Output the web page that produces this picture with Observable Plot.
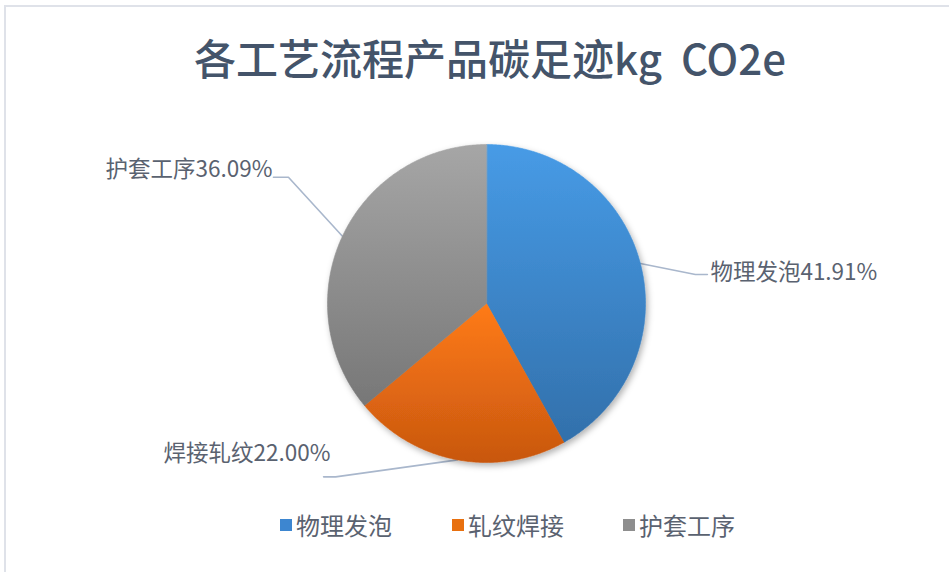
<!DOCTYPE html>
<html><head><meta charset="utf-8">
<script src="https://cdn.jsdelivr.net/npm/d3@7"></script>
<script src="https://cdn.jsdelivr.net/npm/@observablehq/plot@0.6"></script>
<style>
html,body{margin:0;padding:0;background:#fff;}
#page{position:relative;width:949px;height:572px;overflow:hidden;background:#fff;
  font-family:"Noto Sans CJK SC","Noto Sans",sans-serif;}
#frame{position:absolute;left:4px;top:5px;right:0;bottom:0;border-top:2px solid #dfe2e9;border-left:2px solid #dfe2e9;}
#title{position:absolute;left:0;width:980px;top:36px;text-align:center;font-size:42px;line-height:42px;
  color:#44546a;white-space:pre;font-weight:500;}
#chart{position:absolute;left:0;top:110px;}
#legend{position:absolute;left:280px;top:512px;height:26px;width:600px;}
.item{position:absolute;top:0;display:flex;align-items:center;font-size:24px;line-height:26px;color:#5a6270;white-space:nowrap;}
.sw{width:12px;height:12px;margin-right:4px;flex:none;}
</style></head>
<body>
<div id="page">
  <div id="frame"></div>
  <div id="title"></div>
  <div id="chart"></div>
  <div id="legend"></div>
</div>
<script>
// ---- data ----
const titleText = "各工艺流程产品碳足迹kg  CO2e";
const categories = ["物理发泡", "轧纹焊接", "护套工序"];     // legend names
const labelNames = ["物理发泡", "焊接轧纹", "护套工序"];     // data-label names as shown
const shares = [41.91, 22.00, 36.09];                      // percent

// ---- styles / layout ----
const gradStops = [["#479be6", "#3270ab"], ["#ff7b17", "#c8570f"], ["#a6a6a6", "#777777"]];
const swatchColors = ["#3d86d0", "#e8700f", "#8e8e8e"];
const W = 949, H = 385, CX = 486, CY = 193, R = 159;
// leader geometry: px offsets from each slice's outer mid point (elbow, end, label start)
const leaderLayout = [
  {elbow: [55, 11], end: [67, 11], text: [70, 9]},
  {elbow: [-122, 17], end: [-134, 17], text: [-294, -6]},
  {elbow: [-54, -59], end: [-69, -59], text: [-237, -66]}
];
const legendLeft = [0, 172, 343];

document.getElementById("title").textContent = titleText;

const rows = categories.map((c, i) => ({name: c, label: labelNames[i], value: shares[i]}));
const arcs = d3.pie().sort(null).value(d => d.value)(rows);

// polygon outline of every slice in unit-circle coordinates
const sliceData = arcs.map(p => {
  const pts = [{name: p.data.name, x: 0, y: 0}];
  const n = Math.ceil((p.endAngle - p.startAngle) / (Math.PI / 360));
  for (let i = 0; i <= n; i++) {
    const a = p.startAngle + (p.endAngle - p.startAngle) * i / n;
    pts.push({name: p.data.name, x: Math.sin(a), y: Math.cos(a)});
  }
  return pts;
});

const leaders = [], labels = [];
arcs.forEach((p, i) => {
  const a = (p.startAngle + p.endAngle) / 2;
  const ex = Math.sin(a), ey = Math.cos(a);
  const L = leaderLayout[i];
  const pt = ([dx, dy]) => ({x: ex + dx / R, y: ey - dy / R});
  [{x: ex, y: ey}, pt(L.elbow), pt(L.end)].forEach(q => leaders.push({name: p.data.name, ...q}));
  const t = pt(L.text);
  labels.push({x: t.x, y: t.y, text: p.data.label + p.data.value.toFixed(2) + "%"});
});

const svg = Plot.plot({
  width: W, height: H, margin: 0,
  x: {domain: [-CX / R, (W - CX) / R], axis: null},
  y: {domain: [-(H - CY) / R, CY / R], axis: null},
  style: {background: "transparent", overflow: "visible", fontFamily: '"Noto Sans CJK SC","Noto Sans",sans-serif'},
  marks: [
    Plot.line(leaders, {x: "x", y: "y", z: "name", stroke: "#a9b7cc", strokeWidth: 1.6, curve: "linear"}),
    ...sliceData.map((pts, i) => Plot.line(pts, {x: "x", y: "y", fill: swatchColors[i], stroke: swatchColors[i],
      strokeWidth: 0.6, curve: "linear-closed"})),
    Plot.text(labels, {x: "x", y: "y", text: "text", textAnchor: "start", fontSize: 22.5, fill: "#5a6270"})
  ]
});

const sel = d3.select(svg);
const defs = sel.insert("defs", ":first-child");
gradStops.forEach(([top, bottom], i) => {
  const g = defs.append("linearGradient").attr("id", `grad${i}`)
    .attr("x1", 0).attr("y1", 0).attr("x2", 0).attr("y2", 1);
  g.append("stop").attr("offset", "0%").attr("stop-color", top);
  g.append("stop").attr("offset", "100%").attr("stop-color", bottom);
});
const f = defs.append("filter").attr("id", "shadow")
  .attr("x", "-10%").attr("y", "-10%").attr("width", "125%").attr("height", "125%");
f.append("feDropShadow").attr("dx", 2).attr("dy", 3).attr("stdDeviation", 3)
  .attr("flood-color", "#000").attr("flood-opacity", 0.3);
// slice groups are the line marks after the leader mark
const lineGroups = svg.querySelectorAll('g[aria-label="line"]');
const textGroup = svg.querySelector('g[aria-label="text"]');
const sliceGroup = document.createElementNS("http://www.w3.org/2000/svg", "g");
sliceGroup.setAttribute("filter", "url(#shadow)");
svg.insertBefore(sliceGroup, textGroup);
for (let i = 0; i < categories.length; i++) {
  const g = lineGroups[i + 1];
  if (!g) continue;
  g.setAttribute("fill", `url(#grad${i})`);
  g.setAttribute("stroke", `url(#grad${i})`);
  g.querySelectorAll("path").forEach(p => { p.setAttribute("fill", `url(#grad${i})`); p.setAttribute("stroke", `url(#grad${i})`); });
  sliceGroup.appendChild(g);
}

document.getElementById("chart").appendChild(svg);

// legend
const leg = d3.select("#legend");
categories.forEach((c, i) => {
  const it = leg.append("div").attr("class", "item").style("left", legendLeft[i] + "px");
  it.append("div").attr("class", "sw").style("background", swatchColors[i]);
  it.append("span").text(c);
});
</script>
</body></html>
